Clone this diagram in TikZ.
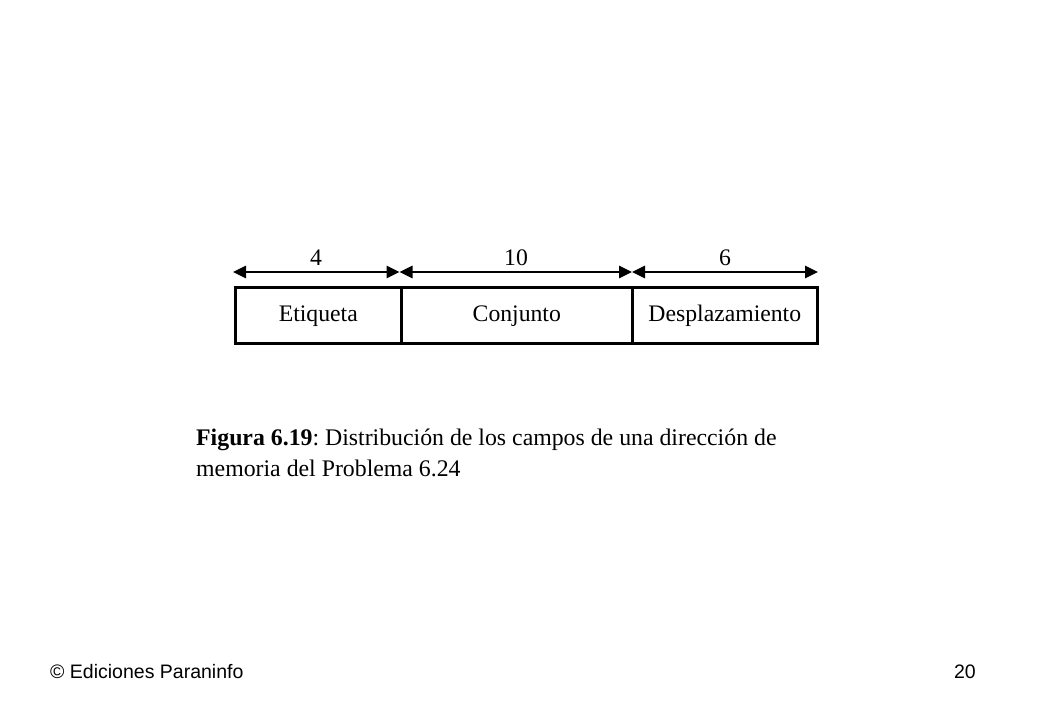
\documentclass[tikz,border=0pt]{standalone}
\usepackage{fontspec}
\setmainfont{Liberation Serif}
\newfontfamily\arialf{Liberation Sans}
\usetikzlibrary{arrows.meta}
\frenchspacing
\begin{document}
\begin{tikzpicture}[x=1pt,y=-1pt,
  field/.style={draw,line width=2.6pt,minimum height=56pt,inner sep=0pt,text height=17pt,text depth=5pt,anchor=north west,font=\fontsize{23.7}{28}\selectfont},
  dim/.style={line width=2.6pt,{Triangle[length=13pt,width=12pt]}-{Triangle[length=13pt,width=12pt]}},
  dimlab/.style={font=\fontsize{23.7}{28}\selectfont,anchor=base},
  captxt/.style={anchor=base west,inner sep=0pt,font=\fontsize{23.8}{32}\selectfont},
  foottxt/.style={inner sep=0pt,font=\arialf\fontsize{19.5}{22}\selectfont}]
\useasboundingbox (0,0) rectangle (1040,720);
\fill[white] (0,0) rectangle (1040,720);
\node[field,minimum width=166pt] (et) at (234,286) {Etiqueta};
\node[field,minimum width=231pt] (co) at (400,286) {Conjunto};
\node[field,minimum width=185pt] (de) at (631,286) {Desplazamiento};
\coordinate (a0) at (233,272);
\coordinate (a1) at (399.5,272);
\coordinate (a2) at (632,272);
\coordinate (a3) at (818,272);
\draw[dim] (a0) -- (a1);
\draw[dim] (a1) -- (a2);
\draw[dim] (a2) -- (a3);
\node[dimlab] (l4) at (316,265) {4};
\node[dimlab] (l10) at (516,265) {10};
\node[dimlab] (l6) at (725,265) {6};
\node[captxt] (cap1) at (196,445) {\textbf{Figura 6.19}: Distribución de los campos de una dirección de};
\node[captxt] (cap2) at (196,476) {memoria del Problema 6.24};
\node[foottxt,anchor=base west] (foot) at (50,678) {© Ediciones Paraninfo};
\node[foottxt,anchor=base east] (page) at (976,678) {20};
\end{tikzpicture}
\end{document}
